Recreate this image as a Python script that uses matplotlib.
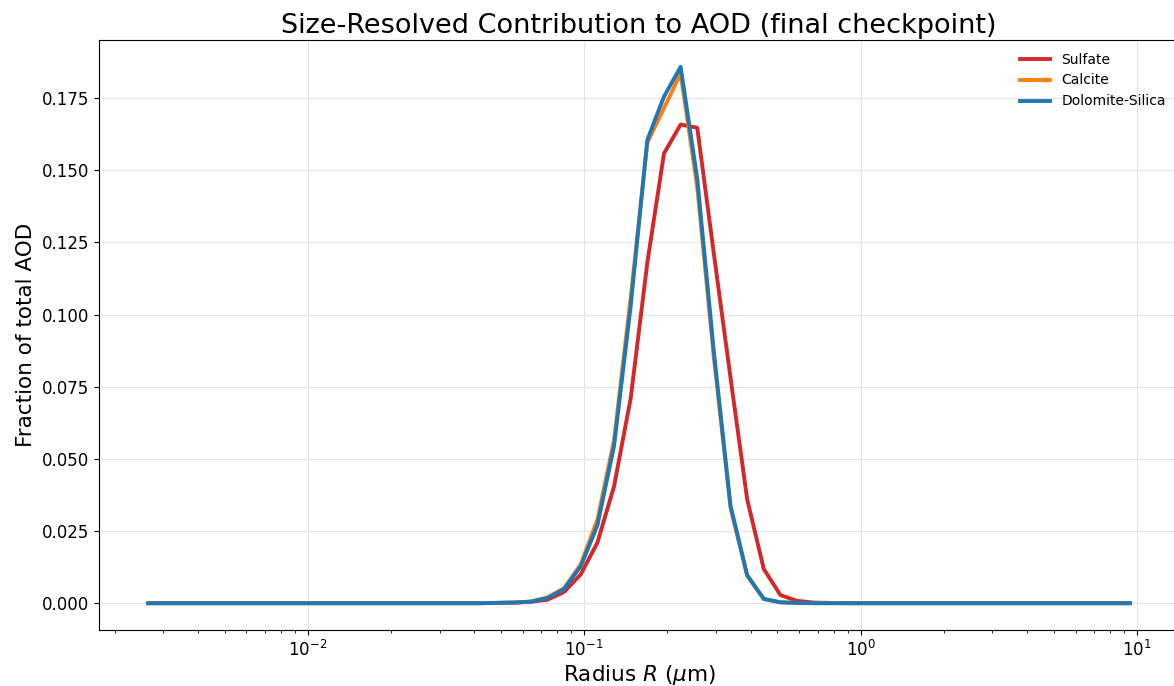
import matplotlib
matplotlib.use("Agg")
import matplotlib.pyplot as plt

# Bin radii (um)
radius = [
    0.002645, 0.003038, 0.003490, 0.004009, 0.004605, 0.005290, 0.006077, 0.006980, 0.008018, 0.009210,
    0.01058, 0.01215, 0.01396, 0.01604, 0.01842, 0.02116, 0.02431, 0.02792, 0.03207, 0.03684,
    0.04232, 0.04861, 0.05584, 0.06415, 0.07368, 0.08464, 0.09723, 0.1117, 0.1283, 0.1474,
    0.1693, 0.1945, 0.2234, 0.2566, 0.2947, 0.3386, 0.3889, 0.4467, 0.5132, 0.5895,
    0.6771, 0.7778, 0.8935, 1.026, 1.179, 1.354, 1.556, 1.787, 2.053, 2.358,
    2.708, 3.111, 3.574, 4.105, 4.716, 5.417, 6.222, 7.148, 8.211, 9.431,
]

sulfate = [
    0, 0, 0, 0, 0, 0, 0, 0, 0, 0,
    0, 0, 0, 0, 0, 0, 0, 0, 0, 0,
    0, 0.0001, 0.0002, 0.0005, 0.0012, 0.0039, 0.0100, 0.0210, 0.0405, 0.0710,
    0.1180, 0.1558, 0.1658, 0.1647, 0.1210, 0.0780, 0.0360, 0.0118, 0.0028, 0.0008,
    0.0002, 0.0001, 0, 0, 0, 0, 0, 0, 0, 0,
    0, 0, 0, 0, 0, 0, 0, 0, 0, 0,
]

calcite = [
    0, 0, 0, 0, 0, 0, 0, 0, 0, 0,
    0, 0, 0, 0, 0, 0, 0, 0, 0, 0,
    0, 0.0001, 0.0002, 0.0006, 0.0020, 0.0052, 0.0135, 0.0290, 0.0565, 0.1060,
    0.1595, 0.1715, 0.1835, 0.1440, 0.0850, 0.0330, 0.0095, 0.0014, 0.0003, 0.0001,
    0, 0, 0, 0, 0, 0, 0, 0, 0, 0,
    0, 0, 0, 0, 0, 0, 0, 0, 0, 0,
]

dolomite_silica = [
    0, 0, 0, 0, 0, 0, 0, 0, 0, 0,
    0, 0, 0, 0, 0, 0, 0, 0, 0, 0,
    0, 0.0001, 0.0002, 0.0005, 0.0018, 0.0049, 0.0128, 0.0270, 0.0545, 0.1030,
    0.1605, 0.1755, 0.1858, 0.1470, 0.0870, 0.0337, 0.0097, 0.0015, 0.0003, 0.0001,
    0, 0, 0, 0, 0, 0, 0, 0, 0, 0,
    0, 0, 0, 0, 0, 0, 0, 0, 0, 0,
]

fig = plt.figure(figsize=(11.74, 6.86), dpi=100)
ax = fig.add_axes([99 / 1174, 56 / 686, 1080 / 1174, 590 / 686])

ax.plot(radius, sulfate, color="#d62728", lw=2.8, label="Sulfate")
ax.plot(radius, calcite, color="#ff7f0e", lw=2.8, label="Calcite")
ax.plot(radius, dolomite_silica, color="#1f77b4", lw=2.8, label="Dolomite-Silica")

ax.set_xscale("log")
ax.grid(True, which="major", color="#e4e4e4", lw=0.8)
ax.set_axisbelow(True)

ax.set_title("Size-Resolved Contribution to AOD (final checkpoint)", fontsize=19.5, pad=5)
ax.set_xlabel(r"Radius $R$ ($\mu$m)", fontsize=15.5, labelpad=2)
ax.set_ylabel("Fraction of total AOD", fontsize=15.5)
ax.tick_params(labelsize=12)
ax.legend(loc="upper right", frameon=False, fontsize=10, handlelength=2.2,
          bbox_to_anchor=(0.9995, 1.0))

fig.savefig("out.png", dpi=100)
